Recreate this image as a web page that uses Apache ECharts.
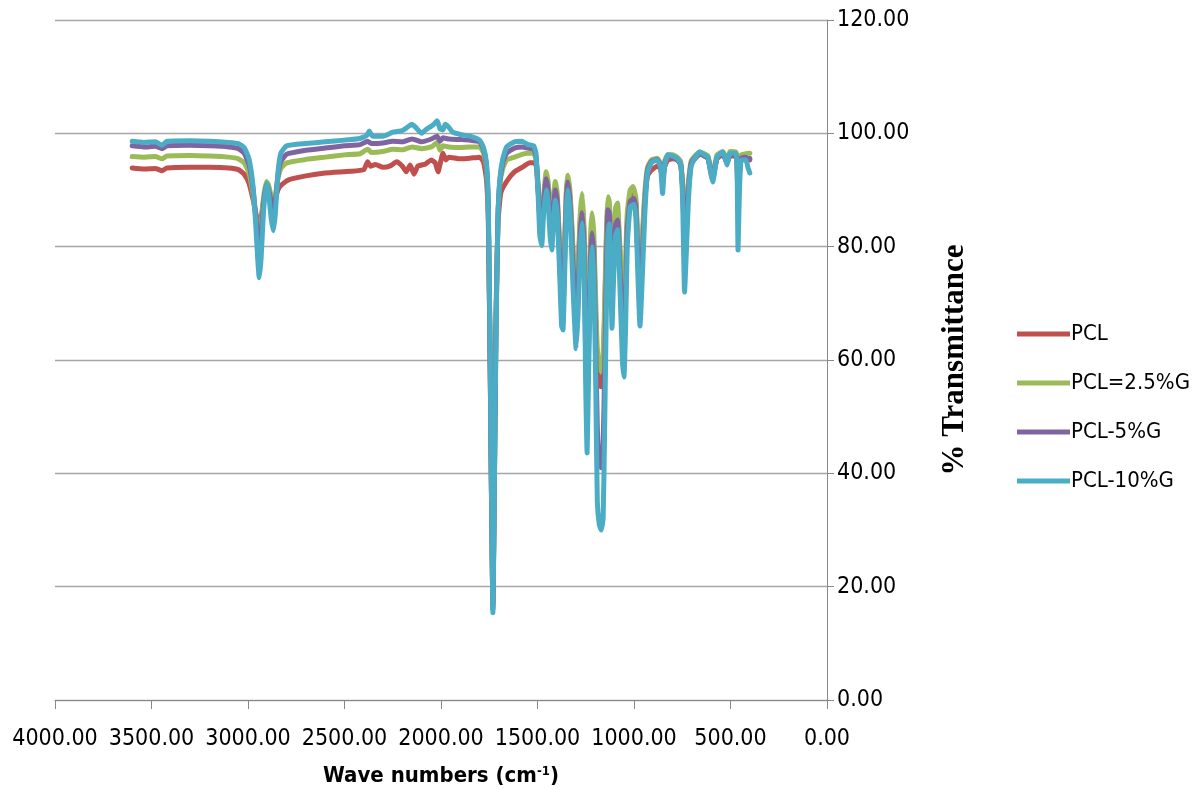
<!DOCTYPE html>
<html>
<head>
<meta charset="utf-8">
<script src="https://cdn.jsdelivr.net/npm/echarts@6/dist/echarts.min.js"></script>
<style>html,body{margin:0;padding:0;background:#fff;}#c{width:1203px;height:790px;}</style>
</head>
<body>
<div id="c"></div>
<script>
const seriesNames = ['PCL', 'PCL=2.5%G', 'PCL-5%G', 'PCL-10%G'];
const xTicks = [0, 500, 1000, 1500, 2000, 2500, 3000, 3500, 4000];
const yTicks = [0, 20, 40, 60, 80, 100, 120];

const pcl = [[3600,93.9],[3540,93.7],[3480,93.8],[3445,93.4],[3420,93.9],[3300,94],[3200,94],[3100,93.9],[3050,93.6],[3020,92.8],[2995,91.2],[2975,88.5],[2960,86],[2950,84.5],[2942,84],[2932,85],[2920,88],[2905,90.3],[2895,90],[2880,88.5],[2868,87.5],[2858,88.5],[2845,90],[2830,90.8],[2790,91.8],[2700,92.5],[2600,93],[2470,93.3],[2400,93.6],[2380,95],[2365,94.2],[2340,94.5],[2300,94],[2260,94.3],[2230,95],[2200,94.2],[2180,93.2],[2160,94.4],[2140,92.8],[2120,94.2],[2080,94.6],[2050,95.3],[2030,94.8],[2015,93.2],[2005,94.5],[1990,96.5],[1975,95.3],[1960,95.8],[1900,95.5],[1850,95.6],[1800,95.8],[1780,95],[1765,92],[1755,85],[1745,58],[1738,35],[1731,17],[1724,38],[1715,68],[1705,84],[1690,89.5],[1660,91.5],[1620,93.2],[1580,94],[1540,94.8],[1515,94.8],[1505,94],[1498,90.5],[1488,86],[1478,84.5],[1468,88],[1455,91.8],[1445,90.5],[1435,86],[1426,84],[1418,87],[1408,90.5],[1398,88.5],[1385,79],[1375,73],[1368,72],[1360,79],[1350,89.5],[1342,91.5],[1330,88],[1315,78],[1300,70],[1290,75],[1278,85],[1268,88],[1258,81],[1250,65],[1243,60],[1235,68],[1225,80],[1218,84],[1208,80],[1198,66],[1190,58],[1180,55.5],[1170,55.3],[1160,58],[1152,68],[1142,82],[1135,87],[1128,86.5],[1120,80],[1114,74],[1106,79],[1095,85],[1085,86],[1075,80],[1060,71],[1052,70],[1044,74],[1035,84],[1020,88.5],[1000,89.5],[990,87.5],[980,80],[969,75],[960,78],[945,88],[930,92.5],[910,93.5],[880,94.2],[862,93.8],[852,91.5],[842,94],[825,95.3],[800,95.5],[777,95.3],[758,94.5],[748,90.5],[738,83],[730,85],[718,90.5],[705,94.5],[690,95.3],[660,96.3],[635,96],[617,95.6],[603,93.5],[592,92],[583,93.5],[570,95.5],[540,96.3],[527,95.5],[518,94.8],[510,95.5],[503,96],[472,96],[466,95],[461,87],[455,92],[445,95.5],[420,95.6],[410,95.4],[400,95.3]];

const pcl25 = [[3600,95.9],[3540,95.8],[3480,95.9],[3445,95.5],[3420,96],[3300,96.1],[3200,96],[3100,95.8],[3050,95.5],[3020,94.8],[2995,93],[2975,89.5],[2960,85.5],[2950,83.5],[2942,83],[2932,84],[2920,88.5],[2905,91.5],[2895,91],[2880,89],[2868,87.5],[2858,89],[2845,92],[2830,93.8],[2800,94.8],[2700,95.4],[2600,95.8],[2500,96.2],[2420,96.4],[2380,97.2],[2360,96.6],[2300,96.8],[2250,97.2],[2200,97.1],[2150,97.6],[2100,97.3],[2050,97.6],[2020,98.4],[2005,97],[1990,97.8],[1960,97.6],[1900,97.5],[1850,97.6],[1800,97.6],[1780,96.6],[1765,94],[1755,86],[1745,58],[1738,34],[1731,16.5],[1724,37],[1715,67],[1705,85],[1695,91],[1680,93.8],[1660,95.3],[1620,95.8],[1580,96.3],[1550,96.5],[1520,96.4],[1508,95.5],[1498,91.5],[1488,86.5],[1478,85],[1468,89],[1455,93.2],[1445,91.5],[1435,87],[1426,85],[1418,88],[1408,91.5],[1398,89.5],[1385,80],[1375,74],[1368,73],[1360,80],[1350,90.5],[1342,92.6],[1330,89],[1315,79],[1300,71],[1290,76],[1278,86],[1268,89.4],[1258,82],[1250,66],[1243,62],[1235,70],[1225,82],[1218,86],[1208,82],[1198,70],[1190,62],[1180,59],[1170,58],[1160,61],[1152,70],[1142,84],[1135,88.8],[1128,88],[1120,82],[1114,76],[1106,81],[1095,87],[1085,87.7],[1075,81],[1060,73],[1052,72],[1044,77],[1035,86],[1020,90],[1005,90.6],[990,88.5],[980,81],[969,76],[960,80],[945,89],[930,94],[910,95.3],[880,95.6],[862,94.6],[852,92],[842,95],[825,96.2],[800,96.2],[777,95.8],[758,95],[748,91],[738,85],[730,87],[718,91.5],[705,95],[690,95.8],[660,96.7],[635,96.4],[617,96],[603,94],[592,92.5],[583,94],[570,96.2],[540,96.8],[527,96],[518,95.3],[510,96],[503,96.8],[472,96.7],[466,95.5],[461,89],[455,93],[445,96.2],[420,96.4],[410,96.5],[400,96.5]];

const pcl5 = [[3600,97.8],[3540,97.6],[3480,97.7],[3445,97.3],[3420,97.8],[3300,97.9],[3200,97.8],[3100,97.6],[3050,97.3],[3020,96.5],[2995,94.5],[2975,90.5],[2960,85.5],[2950,82],[2942,80],[2932,82],[2920,87.5],[2905,91],[2895,90.3],[2880,88],[2868,86.5],[2858,88],[2845,92.5],[2830,95],[2800,96.3],[2700,97],[2600,97.4],[2500,97.8],[2420,98],[2380,98.6],[2360,98.2],[2300,98.3],[2250,98.6],[2200,98.5],[2150,99],[2100,98.5],[2050,99],[2020,99.5],[2005,98.6],[1990,99.2],[1960,99],[1900,98.9],[1850,98.8],[1800,98.5],[1780,97.2],[1765,94.5],[1755,87],[1745,58],[1738,34],[1731,16],[1724,36],[1715,66],[1705,85],[1695,91.5],[1680,94.8],[1660,96.5],[1620,97.4],[1580,97.6],[1550,97.4],[1520,97.2],[1508,96],[1498,91],[1488,85],[1478,83],[1468,87.5],[1455,92],[1445,90],[1435,85],[1426,82],[1418,86],[1408,90],[1398,88],[1385,78],[1375,70],[1368,69],[1360,77],[1350,89],[1342,91.4],[1330,87],[1315,76],[1300,66],[1290,72],[1278,83],[1268,86],[1258,79],[1250,60],[1243,52],[1235,63],[1225,78],[1218,82.4],[1208,78],[1198,62],[1190,48],[1180,42],[1170,41],[1160,45],[1152,58],[1142,78],[1135,86.5],[1128,86],[1120,79],[1114,70],[1106,77],[1095,84],[1085,84.7],[1075,78],[1060,66],[1052,63],[1044,70],[1035,83],[1020,88],[1000,88.5],[990,86.5],[980,78],[969,71],[960,76],[945,87],[930,93.5],[910,95],[880,95.4],[862,94.3],[852,91],[842,94.5],[825,96],[800,95.8],[777,95.4],[758,94.5],[748,90],[738,82],[730,84],[718,90],[705,94.5],[690,95.5],[660,96.5],[635,96],[617,95.6],[603,93.5],[592,92],[583,93.5],[570,95.6],[540,96.5],[527,95.5],[518,94.8],[510,95.5],[503,96.3],[472,96.2],[466,95],[461,88],[455,92],[445,95.6],[420,95.8],[410,95.5],[400,95.6]];

const pcl10 = [[3600,98.6],[3540,98.4],[3480,98.5],[3445,97.9],[3420,98.6],[3300,98.7],[3200,98.6],[3100,98.4],[3050,98.2],[3020,97.5],[2995,95.5],[2975,91],[2960,84],[2950,78],[2942,74.5],[2932,78],[2920,86],[2905,91.2],[2895,90],[2880,85],[2868,82.8],[2858,86],[2845,93],[2830,96.5],[2800,97.8],[2700,98.2],[2600,98.5],[2500,98.8],[2420,99.1],[2385,99.6],[2372,100.4],[2355,99.5],[2300,99.5],[2250,100.2],[2200,100.5],[2170,101.2],[2150,101.6],[2130,101],[2100,100],[2080,100.6],[2040,101.5],[2020,102.2],[2005,100.8],[1990,100.6],[1978,101.6],[1960,101.1],[1940,100.2],[1900,99.8],[1850,99.5],[1800,98.8],[1780,97.5],[1765,95],[1755,88],[1745,60],[1738,35],[1731,15.4],[1724,35],[1715,65],[1705,85],[1695,92],[1680,95.5],[1660,97.6],[1620,98.5],[1580,98.6],[1550,98],[1520,97.8],[1508,96.5],[1498,90],[1488,82],[1478,80.2],[1468,86],[1455,90],[1445,88],[1435,82],[1426,79.4],[1418,84],[1408,88.2],[1398,86],[1385,75],[1375,66],[1368,65.3],[1360,74],[1350,87],[1342,90],[1330,85],[1315,72],[1300,62],[1290,68],[1278,80],[1268,84.2],[1258,76],[1250,55],[1243,43.6],[1235,58],[1225,75],[1218,80],[1208,75],[1198,55],[1190,35],[1180,31],[1170,30],[1160,32],[1152,48],[1142,72],[1135,82],[1128,84],[1120,75],[1114,65.6],[1106,74],[1095,82],[1085,83],[1075,75],[1060,60],[1052,57],[1044,65],[1035,80],[1020,87],[1000,87.5],[990,85],[980,75],[969,66],[960,72],[945,85],[930,93],[910,94.8],[880,95.3],[862,94],[852,89.4],[842,94],[825,96.2],[800,96],[777,95.6],[758,94.5],[748,88],[738,72],[730,78],[718,88.2],[705,94],[690,95.3],[660,96.7],[635,96.2],[617,95.8],[603,93],[592,91.4],[583,93],[570,95.8],[540,96.7],[527,95.5],[518,94.4],[510,95.5],[503,96.5],[472,96.5],[466,94],[461,79.4],[455,88],[445,95.3],[420,95.3],[410,94],[400,93]];

const colors = ['#C0504D', '#9BBB59', '#8064A2', '#4BACC6'];
const allData = [pcl, pcl25, pcl5, pcl10];
const labelFont = "'Liberation Sans Narrow', 'DejaVu Sans Condensed', 'Liberation Sans', sans-serif";

const chart = echarts.init(document.getElementById('c'), null, {renderer: 'canvas'});
chart.setOption({
  animation: false,
  backgroundColor: '#fff',
  color: colors,
  grid: {left: 55, right: 376, top: 20, bottom: 90, containLabel: false, outerBoundsMode: 'none'},
  legend: {
    orient: 'vertical',
    left: 1012,
    top: 318,
    itemWidth: 53,
    itemHeight: 5,
    itemGap: 27,
    icon: 'rect',
    data: seriesNames,
    textStyle: {fontFamily: labelFont, fontSize: 22, color: '#000', padding: [0, 0, 0, -4]}
  },
  xAxis: {
    type: 'value',
    min: xTicks[0],
    max: xTicks[xTicks.length - 1],
    interval: 500,
    inverse: true,
    name: '{a|Wave numbers (cm}{s|-1}{a|)}',
    nameLocation: 'middle',
    nameGap: 65,
    nameTextStyle: {
      rich: {
        a: {fontFamily: labelFont, fontSize: 22, fontWeight: 'bold', color: '#000'},
        s: {fontFamily: labelFont, fontSize: 13, fontWeight: 'bold', color: '#000', verticalAlign: 'top', padding: [0, 0, 10, 0]}
      }
    },
    axisLine: {show: true, lineStyle: {color: '#888', width: 1}},
    axisTick: {show: true, length: 9, inside: false, lineStyle: {color: '#888'}},
    axisLabel: {fontFamily: labelFont, fontSize: 23, color: '#000', margin: 28, formatter: v => v.toFixed(2)},
    splitLine: {show: false}
  },
  yAxis: {
    type: 'value',
    position: 'right',
    min: yTicks[0],
    max: yTicks[yTicks.length - 1],
    interval: 20,
    name: '% Transmittance',
    nameLocation: 'middle',
    nameRotate: 90,
    nameGap: 112,
    nameTextStyle: {fontFamily: "'Liberation Serif', 'DejaVu Serif', serif", fontSize: 31, fontWeight: 'bold', color: '#000'},
    axisLine: {show: true, lineStyle: {color: '#888', width: 1}},
    axisTick: {show: true, length: 7, lineStyle: {color: '#888'}},
    axisLabel: {fontFamily: labelFont, fontSize: 23, color: '#000', margin: 10, formatter: v => v.toFixed(2)},
    splitLine: {show: true, lineStyle: {color: '#A6A6A6', width: 1.3}}
  },
  series: allData.map((d, i) => ({
    name: seriesNames[i],
    type: 'line',
    data: d,
    showSymbol: false,
    symbol: 'none',
    smooth: 0.15,
    lineStyle: {width: 5, color: colors[i], cap: 'round', join: 'round'},
    emphasis: {disabled: true}
  }))
});
</script>
</body>
</html>
